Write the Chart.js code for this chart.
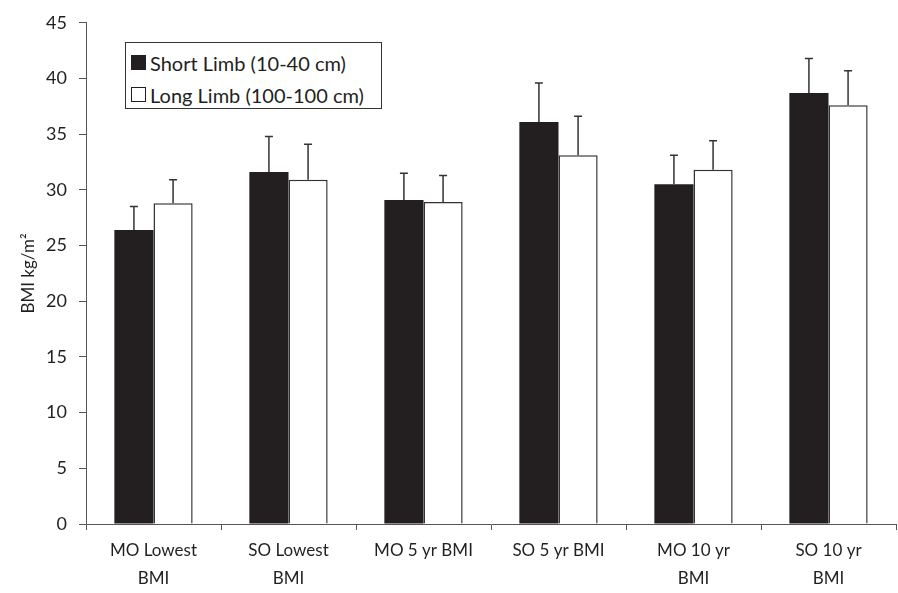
<!DOCTYPE html>
<html>
<head>
<meta charset="utf-8">
<script src="https://cdn.jsdelivr.net/npm/chart.js@4/dist/chart.umd.min.js"></script>
<style>
  html, body { margin: 0; padding: 0; background: #fff; }
  #wrap { position: relative; width: 898px; height: 593px; }
  #legend {
    position: absolute; left: 125px; top: 42px; width: 257px; height: 67px;
    border: 1px solid #333; background: #fff; box-sizing: border-box;
    font-family: Lato, sans-serif; font-size: 20px; color: #231f20;
    padding: 6px 0 0 5px; line-height: 32px;
  }
  .item { display: flex; align-items: center; height: 27px; margin-bottom: 5px; }
  .box { width: 15px; height: 15px; margin-right: 4px; box-sizing: border-box; }
</style>
</head>
<body>
<div id="wrap">
  <canvas id="chart" width="898" height="593"></canvas>
  <div id="legend"></div>
</div>
<script>
const categories = [
  ['MO Lowest', 'BMI'],
  ['SO Lowest', 'BMI'],
  'MO 5 yr BMI',
  'SO 5 yr BMI',
  ['MO 10 yr', 'BMI'],
  ['SO 10 yr', 'BMI'],
];
const seriesNames = ['Short Limb (10-40 cm)', 'Long Limb (100-100 cm)'];
const shortLimb = [26.4, 31.6, 29.1, 36.1, 30.5, 38.7];
const longLimb = [28.8, 30.9, 28.9, 33.1, 31.8, 37.6];
const shortLimbErr = [2.1, 3.2, 2.4, 3.5, 2.6, 3.1];
const longLimbErr = [2.1, 3.2, 2.4, 3.5, 2.6, 3.1];
const yTicks = [0, 5, 10, 15, 20, 25, 30, 35, 40, 45];

const INK = '#231f20';
const AXIS = '#555';
const FONT = 'Lato, sans-serif';

// upward-only error bars with a short cap
const errorBars = {
  id: 'errorBars',
  afterDatasetsDraw(chart) {
    const ctx = chart.ctx;
    const y = chart.scales.y;
    const errs = [shortLimbErr, longLimbErr];
    ctx.save();
    ctx.strokeStyle = '#333';
    ctx.lineWidth = 1.5;
    chart.data.datasets.forEach((ds, i) => {
      const meta = chart.getDatasetMeta(i);
      meta.data.forEach((bar, j) => {
        const top = y.getPixelForValue(ds.data[j]);
        const cap = y.getPixelForValue(ds.data[j] + errs[i][j]);
        ctx.beginPath();
        ctx.moveTo(bar.x, top);
        ctx.lineTo(bar.x, cap);
        ctx.moveTo(bar.x - 4, cap);
        ctx.lineTo(bar.x + 4, cap);
        ctx.stroke();
      });
    });
    ctx.restore();
  },
};

new Chart(document.getElementById('chart'), {
  type: 'bar',
  data: {
    labels: categories,
    datasets: [
      {
        label: seriesNames[0],
        data: shortLimb,
        backgroundColor: INK,
        borderColor: INK,
        borderWidth: 0,
      },
      {
        label: seriesNames[1],
        data: longLimb,
        backgroundColor: '#fff',
        borderColor: '#333',
        borderWidth: 1.5,
      },
    ],
  },
  options: {
    responsive: false,
    animation: false,
    events: [],
    layout: { padding: { top: 20, right: 2, left: 0, bottom: 0 } },
    datasets: { bar: { categoryPercentage: 0.58, barPercentage: 1 } },
    plugins: { legend: { display: false }, tooltip: { enabled: false } },
    scales: {
      x: {
        afterFit: (s) => { s.height = 69; },
        grid: { display: true, drawOnChartArea: false, drawTicks: true, tickLength: 6, color: AXIS, offset: true },
        border: { display: true, color: AXIS, width: 1 },
        ticks: { color: INK, font: { family: FONT, size: 17, lineHeight: 1.65 }, padding: 6, maxRotation: 0, autoSkip: false },
      },
      y: {
        min: 0,
        max: 45,
        afterFit: (s) => { s.width = 86; },
        afterBuildTicks: (s) => { s.ticks = yTicks.map((v) => ({ value: v })); },
        grid: { display: true, drawOnChartArea: false, drawTicks: true, tickLength: 7, color: AXIS },
        border: { display: true, color: AXIS, width: 1 },
        ticks: { color: INK, font: { family: FONT, size: 18 }, padding: 12 },
        title: { display: true, text: 'BMI kg/m²', color: INK, font: { family: FONT, size: 17 }, padding: { top: 18, bottom: 0 } },
      },
    },
  },
  plugins: [errorBars],
});

const legend = document.getElementById('legend');
legend.innerHTML = seriesNames
  .map((name, i) => `<div class="item"><span class="box" style="background:${i === 0 ? INK : '#fff'};border:1.5px solid ${INK}"></span>${name}</div>`)
  .join('');
</script>
</body>
</html>
